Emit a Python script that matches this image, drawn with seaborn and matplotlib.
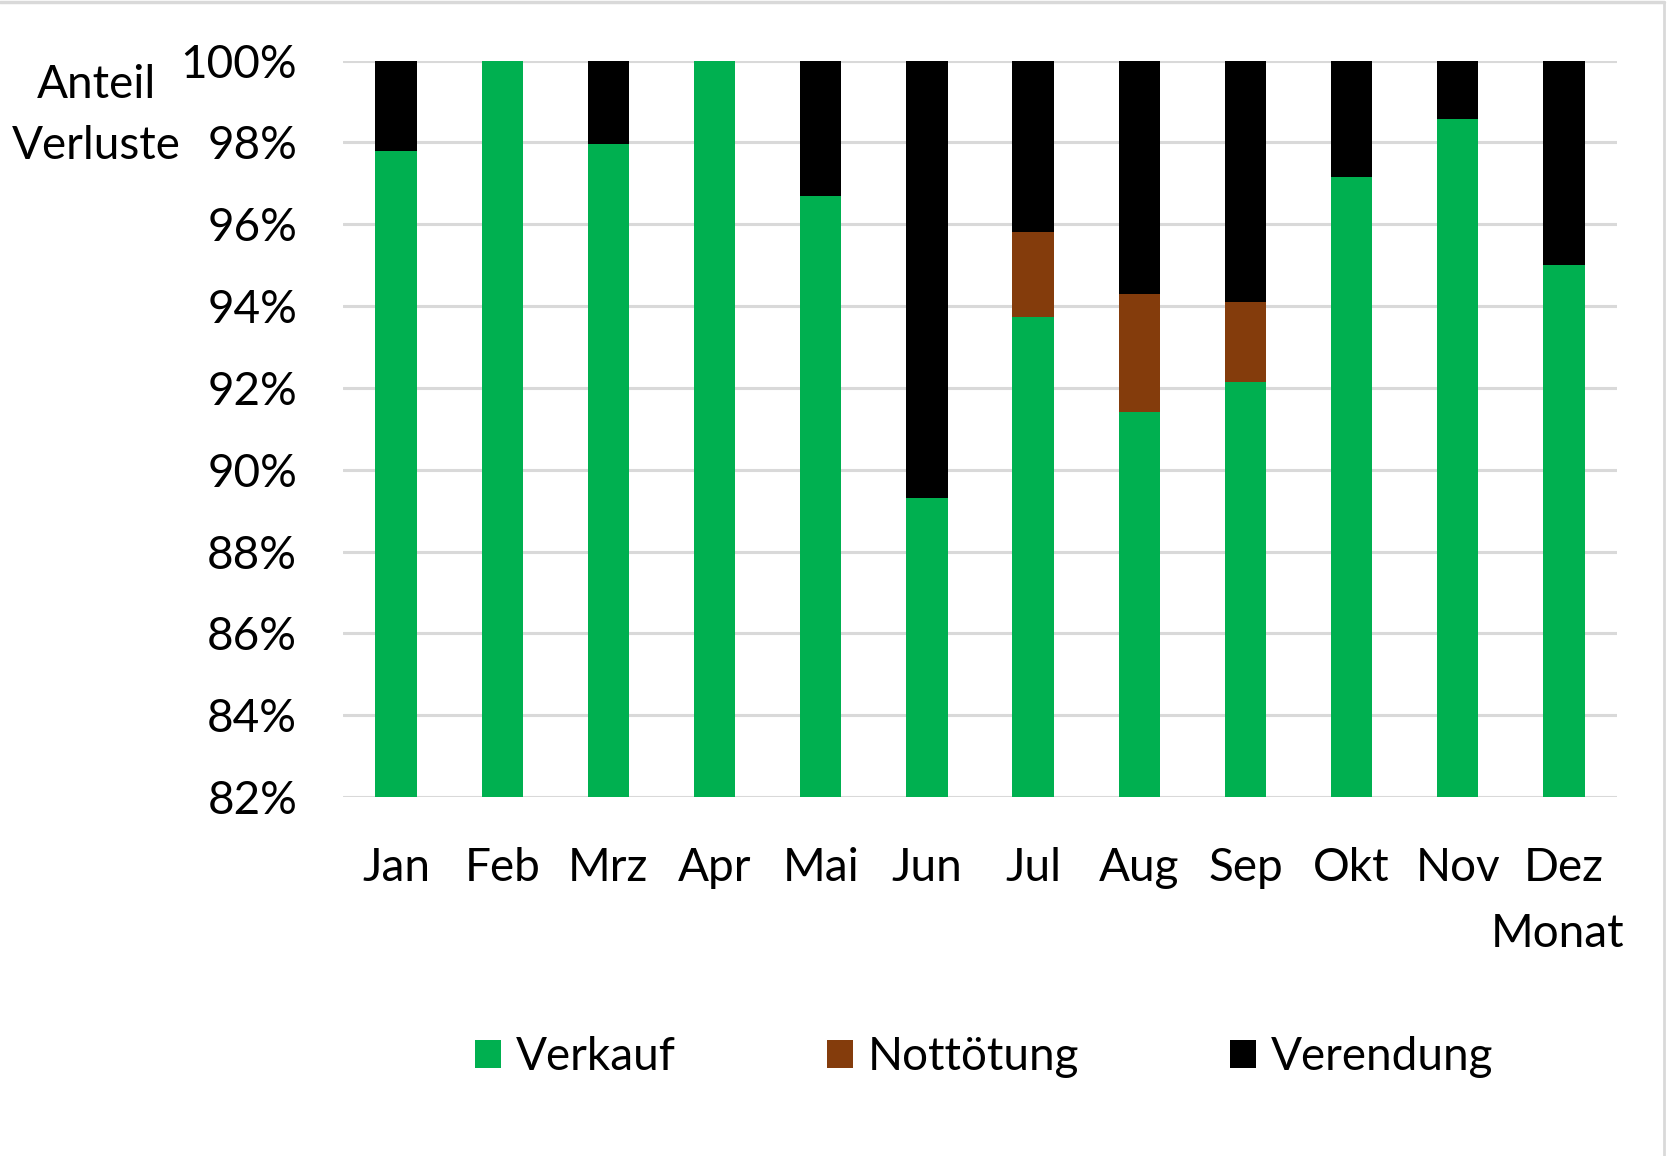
import matplotlib
matplotlib.use("Agg")
import matplotlib.pyplot as plt
import seaborn as sns
import pandas as pd
import numpy as np
from matplotlib.ticker import FuncFormatter, MultipleLocator
from matplotlib.lines import Line2D
from matplotlib.patches import Patch

months = ["Jan", "Feb", "Mrz", "Apr", "Mai", "Jun", "Jul", "Aug", "Sep", "Okt", "Nov", "Dez"]
verkauf = [97.8, 100.0, 97.95, 100.0, 96.7, 89.3, 93.73, 91.4, 92.15, 97.15, 98.57, 95.0]
nottoetung = [0, 0, 0, 0, 0, 0, 2.09, 2.89, 1.95, 0, 0, 0]
series_names = ["Verkauf", "Nottötung", "Verendung"]
colors = ["#00B050", "#843C0C", "#000000"]

verend = [100 - v - n for v, n in zip(verkauf, nottoetung)]
df = pd.DataFrame({"Monat": months, "Verkauf": verkauf, "Nottötung": nottoetung, "Verendung": verend})
df["c1"] = df["Verkauf"]
df["c2"] = df["Verkauf"] + df["Nottötung"]
df["c3"] = df["c2"] + df["Verendung"]

sns.set_theme(style="white")
plt.rcParams["font.family"] = ["Lato", "DejaVu Sans"]
plt.rcParams["text.color"] = "black"

FS = 33
W, H = 1667, 1156
fig = plt.figure(figsize=(W / 100, H / 100), dpi=100)
ax = fig.add_axes([343 / W, 1 - 797 / H, (1617 - 343) / W, (797 - 60.6) / H])

for col, c in zip(["c3", "c2", "c1"], colors[::-1]):
    sns.barplot(data=df, x="Monat", y=col, color=c, width=0.39, ax=ax,
                saturation=1, linewidth=0, zorder=3)

ax.set_ylim(82, 100)
ax.set_xlim(-0.5, 11.5)
ax.yaxis.set_major_locator(MultipleLocator(2))
ax.yaxis.set_major_formatter(FuncFormatter(lambda v, p: f"{v:.0f}%"))
ax.grid(axis="y", color="#D9D9D9", linewidth=2.2, zorder=0)
ax.set_axisbelow(True)
for s in ax.spines.values():
    s.set_visible(False)
ax.tick_params(axis="both", length=0, labelsize=FS, colors="black", labelcolor="black")
ax.tick_params(axis="y", pad=33)
ax.tick_params(axis="x", pad=36)
ax.set_xlabel("")
ax.set_ylabel("")

fig.text(1624 / W, 1 - 934 / H, "Monat", ha="right", va="center", fontsize=FS, color="black")
fig.text(96 / W, 1 - 85 / H, "Anteil", ha="center", va="center", fontsize=FS, color="black")
fig.text(96 / W, 1 - 146 / H, "Verluste", ha="center", va="center", fontsize=FS, color="black")

handles = [Patch(facecolor=c, edgecolor="none") for c in colors]
leg = fig.legend(handles, series_names, loc="center", bbox_to_anchor=(0.5905, 1 - 1057 / H),
                 ncol=3, frameon=False, fontsize=FS, handlelength=0.56, handleheight=0.56,
                 handletextpad=0.33, columnspacing=3.29)
for t in leg.get_texts():
    t.set_color("black")

# partial outer border (top and right)
fig.add_artist(Line2D([0, 1664 / W], [1 - 2 / H, 1 - 2 / H], color="#D9D9D9", linewidth=2.5,
                      transform=fig.transFigure))
fig.add_artist(Line2D([1664 / W, 1664 / W], [0, 1 - 2 / H], color="#D9D9D9", linewidth=2.0,
                      transform=fig.transFigure))

fig.savefig("out.png", dpi=100, facecolor="white")
